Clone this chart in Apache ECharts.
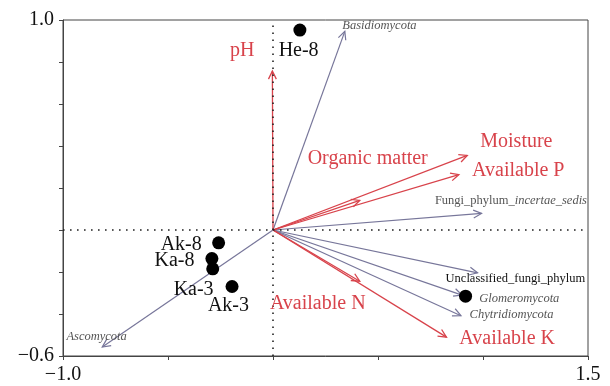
<!DOCTYPE html>
<html><head><meta charset="utf-8">
<script src="https://cdn.jsdelivr.net/npm/echarts@6/dist/echarts.min.js"></script>
<style>html,body{margin:0;padding:0;background:#fff}#chart{width:610px;height:386px}</style>
</head><body><div id="chart"></div>
<script>
// Soil properties (environmental vectors)
const envNames = ['pH', 'Moisture', 'Available P', 'Organic matter', 'Available N', 'Available K'];
const envX = [-0.003, 0.925, 0.885, 0.413, 0.413, 0.826];
const envY = [0.757, 0.355, 0.264, 0.141, -0.244, -0.510];

// Fungal phyla (response vectors)
const phylaNames = ['Basidiomycota', 'Fungi_phylum_incertae_sedis', 'Unclassified_fungi_phylum', 'Glomeromycota', 'Chytridiomycota', 'Ascomycota'];
const phylaX = [0.342, 0.993, 0.974, 0.900, 0.895, -0.813];
const phylaY = [0.946, 0.079, -0.204, -0.310, -0.408, -0.557];

// Sampling sites
const siteNames = ['He-8', 'Ak-8', 'Ka-8', 'Ka-3', 'Ak-3', ''];
const siteX = [0.128, -0.259, -0.291, -0.287, -0.195, 0.917];
const siteY = [0.952, -0.061, -0.136, -0.185, -0.269, -0.315];

// Axis tick labels (only the ends are labelled)
const xTickLabels = { '-1': '\u22121.0', '1.5': '1.5' };
const yTickLabels = { '1': '1.0', '-0.6': '\u22120.6' };

// Where each label's centre sits, in axis units
const envLabelAt = [[-0.146, 0.853], [1.159, 0.418], [1.168, 0.283], [0.451, 0.339], [0.213, -0.352], [1.115, -0.518]];
const phylaLabelAt = [[0.507, 0.972], [1.133, 0.138], [1.154, -0.233], [1.173, -0.328], [1.136, -0.403], [-0.840, -0.506]];
const siteLabelAt = [[0.122, 0.853], [-0.437, -0.072], [-0.469, -0.148], [-0.378, -0.284], [-0.212, -0.360], null];

const RED = '#d8434b';
const SLATE = '#77769a';
const FONT = '"Liberation Serif", "DejaVu Serif", serif';

function zip(xs, ys) { return xs.map((x, i) => [x, ys[i]]); }

function arrowSeries(xs, ys, color, width, z) {
  return {
    type: 'custom',
    z: z,
    silent: true,
    data: zip(xs, ys),
    renderItem: function (params, api) {
      const p0 = api.coord([0, 0]);
      const p1 = api.coord([api.value(0), api.value(1)]);
      const a = Math.atan2(p1[1] - p0[1], p1[0] - p0[0]);
      const L = 9, phi = 0.45;
      const h1 = [p1[0] - L * Math.cos(a - phi), p1[1] - L * Math.sin(a - phi)];
      const h2 = [p1[0] - L * Math.cos(a + phi), p1[1] - L * Math.sin(a + phi)];
      return {
        type: 'group',
        children: [
          { type: 'line', shape: { x1: p0[0], y1: p0[1], x2: p1[0], y2: p1[1] },
            style: { stroke: color, lineWidth: width } },
          { type: 'polyline', shape: { points: [h1, p1, h2] },
            style: { stroke: color, lineWidth: width, fill: null } }
        ]
      };
    }
  };
}

function labelSeries(names, spots, styleFor, z) {
  const data = [];
  names.forEach((n, i) => { if (n && spots[i]) data.push([spots[i][0], spots[i][1], i]); });
  return {
    type: 'custom',
    z: z,
    silent: true,
    data: data,
    renderItem: function (params, api) {
      const p = api.coord([api.value(0), api.value(1)]);
      const i = api.value(2);
      const s = styleFor(names[i]);
      return {
        type: 'text',
        x: p[0], y: p[1],
        style: Object.assign({ text: s.text || names[i], align: 'center', verticalAlign: 'middle', fontFamily: FONT }, s)
      };
    }
  };
}

const chart = echarts.init(document.getElementById('chart'), null, { renderer: 'canvas' });

chart.setOption({
  animation: false,
  backgroundColor: '#fff',
  grid: { left: 63, right: 22, top: 20, bottom: 30, show: true, borderColor: '#444', borderWidth: 1 },
  xAxis: {
    type: 'value', min: -1, max: 1.5, interval: 0.5,
    axisLine: { show: true, onZero: false, lineStyle: { color: '#444', width: 1 } },
    axisTick: { show: true, length: 4, lineStyle: { color: '#444' } },
    splitLine: { show: false },
    axisLabel: {
      margin: 9, color: '#111', fontFamily: FONT, fontSize: 20, showMinLabel: true, showMaxLabel: true,
      formatter: v => xTickLabels[String(Math.round(v * 10) / 10)] || ''
    }
  },
  yAxis: {
    type: 'value', min: -0.6, max: 1.0, interval: 0.2,
    axisLine: { show: true, onZero: false, lineStyle: { color: '#444', width: 1 } },
    axisTick: { show: true, length: 4, lineStyle: { color: '#444' } },
    splitLine: { show: false },
    axisLabel: {
      margin: 9, color: '#111', fontFamily: FONT, fontSize: 20, showMinLabel: true, showMaxLabel: true,
      formatter: v => yTickLabels[String(Math.round(v * 10) / 10)] || ''
    }
  },
  series: [
    {
      // origin cross-hairs
      type: 'line', data: [], silent: true, z: 1,
      markLine: {
        silent: true, symbol: 'none', label: { show: false },
        lineStyle: { color: '#222', width: 1.6, type: [1.6, 5.4] },
        data: [{ xAxis: 0 }, { yAxis: 0 }]
      }
    },
    arrowSeries(phylaX, phylaY, SLATE, 1.2, 2),
    arrowSeries(envX, envY, RED, 1.3, 3),
    {
      type: 'scatter', z: 5, silent: true,
      symbol: 'circle', symbolSize: 13,
      itemStyle: { color: '#000', opacity: 1 },
      data: zip(siteX, siteY)
    },
    labelSeries(envNames, envLabelAt, () => ({ fill: RED, fontSize: 20 }), 6),
    labelSeries(phylaNames, phylaLabelAt, n => {
      if (n === 'Fungi_phylum_incertae_sedis') {
        return {
          text: '{n|Fungi_phylum_}{i|incertae_sedis}', fontSize: 12.5,
          rich: { n: { fill: '#555', fontSize: 12.5, fontFamily: FONT }, i: { fill: '#555', fontSize: 12.5, fontStyle: 'italic', fontFamily: FONT } }
        };
      }
      if (n === 'Unclassified_fungi_phylum') return { fill: '#111', fontSize: 12.5 };
      return { fill: '#555', fontSize: 12.5, fontStyle: 'italic' };
    }, 6),
    labelSeries(siteNames, siteLabelAt, () => ({ fill: '#111', fontSize: 20 }), 6)
  ]
});
</script>
</body></html>
